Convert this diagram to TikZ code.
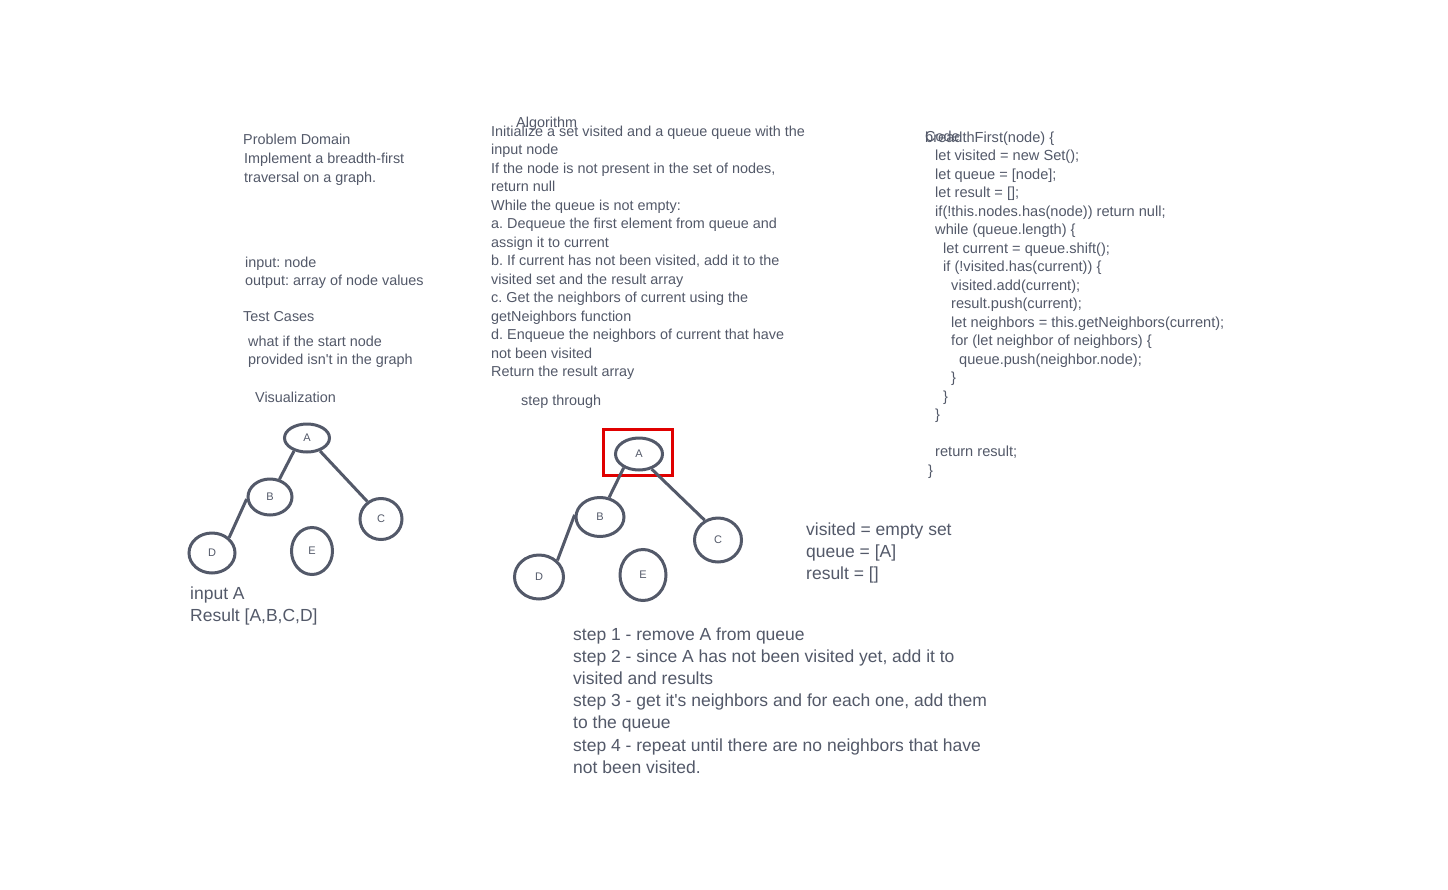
\documentclass[tikz,border=0pt]{standalone}
\usepackage{fontspec}
\setmainfont{Liberation Sans}[Ligatures=TeXOff]
\usetikzlibrary{shapes.geometric}
\definecolor{ink}{HTML}{535969}
\definecolor{redbox}{HTML}{E00000}
\frenchspacing
\begin{document}
\frenchspacing
\begin{tikzpicture}[x=1pt,y=-1pt,
  txt/.style={anchor=base west, inner sep=0pt, text=ink, font=\fontsize{14.4}{17}\selectfont\frenchspacing},
  codetxt/.style={txt, font=\fontsize{14.6}{17}\selectfont\frenchspacing},
  head/.style={txt, font=\fontsize{14.4}{17}\selectfont\frenchspacing},
  big/.style={txt, font=\fontsize{17.5}{20}\selectfont\frenchspacing},
  gnode/.style={ellipse, draw=ink, line width=3pt, inner sep=0pt, text=ink, font=\fontsize{11}{13}\selectfont},
  gedge/.style={draw=ink, line width=3pt}]
\useasboundingbox (0,0) rectangle (1448,889);
\fill[white] (0,0) rectangle (1448,889);

% Problem domain column
\node[head] (pd) at (243,144) {Problem Domain};
\node[txt] (pd1) at (244,163) {Implement a breadth-first};
\node[txt] (pd2) at (244,182) {traversal on a graph.};
\node[txt] (io1) at (245,267) {input: node};
\node[txt] (io2) at (245,285) {output: array of node values};
\node[head] (tc) at (243,321) {Test Cases};
\node[txt] (tc1) at (248,346) {what if the start node};
\node[txt] (tc2) at (248,364) {provided isn't in the graph};
\node[head] (vis) at (255,402) {Visualization};

% Algorithm column
\node[head] (alg) at (516,127) {Algorithm};
\foreach \t [count=\i from 0] in {
  Initialize a set visited and a queue queue with the,
  input node,
  {If the node is not present in the set of nodes,},
  return null,
  While the queue is not empty:,
  a. Dequeue the first element from queue and,
  assign it to current,
  {b. If current has not been visited, add it to the},
  visited set and the result array,
  c. Get the neighbors of current using the,
  getNeighbors function,
  d. Enqueue the neighbors of current that have,
  not been visited,
  Return the result array}
  \node[txt] (al\i) at (491,136+18.5*\i) {\t};
\node[head] (st) at (521,405) {step through};

% Code column
\node[head] (code) at (925,141) {Code};
\node[codetxt] (c0) at (925,142) {breadthFirst(node) \{};
\node[codetxt] (c1) at (935,160.5) {let visited = new Set();};
\node[codetxt] (c2) at (935,179) {let queue = [node];};
\node[codetxt] (c3) at (935,197.5) {let result = [];};
\node[codetxt] (c4) at (935,216) {if(!this.nodes.has(node)) return null;};
\node[codetxt] (c5) at (935,234.5) {while (queue.length) \{};
\node[codetxt] (c6) at (943,253) {let current = queue.shift();};
\node[codetxt] (c7) at (943,271.5) {if (!visited.has(current)) \{};
\node[codetxt] (c8) at (951,290) {visited.add(current);};
\node[codetxt] (c9) at (951,308.5) {result.push(current);};
\node[codetxt] (c10) at (951,327) {let neighbors = this.getNeighbors(current);};
\node[codetxt] (c11) at (951,345.5) {for (let neighbor of neighbors) \{};
\node[codetxt] (c12) at (959,364) {queue.push(neighbor.node);};
\node[codetxt] (c13) at (951,382.5) {\}};
\node[codetxt] (c14) at (943,401) {\}};
\node[codetxt] (c15) at (935,419.5) {\}};
\node[codetxt] (c16) at (935,456.5) {return result;};
\node[codetxt] (c17) at (928,475) {\}};

% Graph 1
\node[gnode, minimum width=45pt, minimum height=28pt] (a1) at (307,438) {A};
\node[gnode, minimum width=44pt, minimum height=36pt] (b1) at (270,497) {B};
\node[gnode, minimum width=42pt, minimum height=41pt] (cc1) at (381,519) {C};
\node[gnode, minimum width=46pt, minimum height=40pt] (d1) at (212,553) {D};
\node[gnode, minimum width=41pt, minimum height=47pt] (e1) at (312,551) {E};
\draw[gedge] (a1.-135) -- (b1.62);
\draw[gedge] (a1.-45) -- (cc1.128);
\draw[gedge] (b1.185) -- (d1.42);
\node[big] (in1) at (190,599) {input A};
\node[big] (res1) at (190,621) {Result [A,B,C,D]};

% Graph 2
\node[gnode, minimum width=47pt, minimum height=32pt] (a2) at (639,454) {A};
\node[draw=redbox, line width=3pt, inner sep=0pt, minimum width=69pt, minimum height=46pt] (rb) at (638,452.5) {};
\node[gnode, minimum width=48pt, minimum height=39pt] (b2) at (600,517) {B};
\node[gnode, minimum width=47pt, minimum height=44pt] (cc2) at (718,540) {C};
\node[gnode, minimum width=49pt, minimum height=44pt] (d2) at (539,577) {D};
\node[gnode, minimum width=46pt, minimum height=51pt] (e2) at (643,575) {E};
\draw[gedge] (a2.-138) -- (b2.65);
\draw[gedge] (a2.-50) -- (cc2.124);
\draw[gedge] (b2.175) -- (d2.42);

% State
\node[big] (v1) at (806,535) {visited = empty set};
\node[big] (v2) at (806,557) {queue = [A]};
\node[big] (v3) at (806,579) {result = []};

% Steps
\node[big] (s1) at (573,640) {step 1 - remove A from queue};
\node[big] (s2) at (573,662) {step 2 - since A has not been visited yet, add it to};
\node[big] (s3) at (573,684) {visited and results};
\node[big] (s4) at (573,706) {step 3 - get it's neighbors and for each one, add them};
\node[big] (s5) at (573,728) {to the queue};
\node[big] (s6) at (573,751) {step 4 - repeat until there are no neighbors that have};
\node[big] (s7) at (573,773) {not been visited.};
\end{tikzpicture}
\end{document}
